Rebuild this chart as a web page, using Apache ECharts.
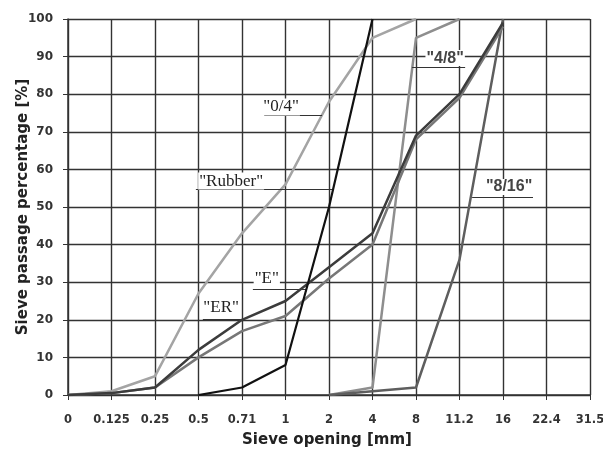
<!DOCTYPE html>
<html><head><meta charset="utf-8">
<script src="https://cdn.jsdelivr.net/npm/echarts@6/dist/echarts.min.js"></script>
<style>html,body{margin:0;padding:0;background:#fff}#c{width:603px;height:453px}</style>
</head><body><div id="c"></div>
<script>
// Sieve sizes (category ticks)
var sieveLabels = ['0','0.125','0.25','0.5','0.71','1','2','4','8','11.2','16','22.4','31.5'];
// Passing percentages per sieve (null = no value)
var s04     = [0, 1, 5, 27, 43, 56, 78, 95, 100, null, null, null, null];
var s48     = [null, null, null, null, null, null, 0, 2, 95, 100, null, null, null];
var s816    = [null, null, null, null, null, null, 0, 1, 2, 36, 100, null, null];
var rubber  = [null, null, null, 0, 2, 8, 50, 100, null, null, null, null, null];
var sER     = [0, 0.5, 2, 12, 20, 25, 34, 43, 69, 80, 99, null, null];
var sE      = [0, 0.5, 2, 10, 17, 21, 31, 40, 68, 79, 98, null, null];

// Annotation text/leader positions in data coordinates (x = sieve index)
var notes = {
  '0/4':   {text:[4.90,76.6], line:[4.51,5.84,74.5], serif:true},
  'Rubber':{text:[3.75,56.9], line:[2.94,6.09,54.7], serif:true},
  'E':     {text:[4.57,30.9], line:[4.25,5.49,28.2], serif:true},
  'ER':    {text:[3.52,23.2], line:[3.10,4.02,20.2], serif:true},
  '4/8':   {text:[8.67,89.6], line:[7.91,9.13,87.2], serif:false},
  '8/16':  {text:[10.14,55.3], line:[9.29,10.69,52.7], serif:false}
};

function pts(arr){
  var out=[];
  arr.forEach(function(v,i){ if(v!==null) out.push([i,v]); });
  return out;
}
function mk(name, arr, color, width, z){
  var n = notes[name];
  return {
    name: name, type:'line', data: pts(arr), symbol:'none', z:z,
    lineStyle:{color:color, width:width}, itemStyle:{color:color},
    markLine:{silent:true, symbol:'none', label:{show:false},
      lineStyle:{color:'#333', width:1, type:'solid'},
      data:[[{coord:[n.line[0],n.line[2]]},{coord:[n.line[1],n.line[2]]}]]},
    markPoint:{silent:true, symbol:'rect', symbolSize:1, itemStyle:{color:'rgba(0,0,0,0)'},
      data:[{coord:n.text, value:name}],
      label:{show:true, position:'inside', formatter:'"'+name+'"',
        color: n.serif ? '#222' : '#444', backgroundColor:'#fff', padding:[0,1],
        fontFamily: n.serif ? '"Liberation Serif", serif' : '"Liberation Sans", Arial, sans-serif',
        fontWeight: n.serif ? 'normal' : 'bold',
        fontSize: n.serif ? 17 : 16}}
  };
}

var chart = echarts.init(document.getElementById('c'), null, {renderer:'canvas'});
chart.setOption({
  animation:false,
  backgroundColor:'#fff',
  grid:{left:68, right:13, top:19, bottom:58, containLabel:false, outerBoundsMode:'none'},
  xAxis:{type:'value', min:0, max:12, interval:1,
    name:'Sieve opening [mm]', nameLocation:'middle', nameGap:38, nameMoveOverlap:false,
    nameTextStyle:{fontFamily:'"DejaVu Sans", sans-serif', fontWeight:'bold', fontSize:15, color:'#222', padding:[0,4,0,0]},
    axisLine:{show:true, lineStyle:{color:'#333', width:1.5}},
    axisTick:{show:true, length:5, lineStyle:{color:'#333'}},
    axisLabel:{formatter:function(v){return sieveLabels[Math.round(v)];}, margin:19,
      fontFamily:'"DejaVu Sans", sans-serif', fontWeight:'bold', fontSize:11.5, color:'#333'},
    splitLine:{show:true, lineStyle:{color:'#333', width:1.4}}},
  yAxis:{type:'value', min:0, max:100, interval:10,
    name:'Sieve passage percentage [%]', nameLocation:'middle', nameGap:37, nameMoveOverlap:false,
    nameTextStyle:{fontFamily:'"DejaVu Sans", sans-serif', fontWeight:'bold', fontSize:15, color:'#222'},
    axisLine:{show:true, lineStyle:{color:'#333', width:1.5}},
    axisTick:{show:true, length:5, lineStyle:{color:'#333'}},
    axisLabel:{margin:15, fontFamily:'"DejaVu Sans", sans-serif', fontWeight:'bold', fontSize:12, color:'#333'},
    splitLine:{show:true, lineStyle:{color:'#333', width:1.4}}},
  series:[
    mk('0/4', s04, '#a4a4a4', 2.5, 2),
    mk('4/8', s48, '#8e8e8e', 2.5, 3),
    mk('8/16', s816, '#5e5e5e', 2.5, 4),
    mk('E', sE, '#777777', 2.5, 5),
    mk('ER', sER, '#3c3c3c', 2.5, 6),
    mk('Rubber', rubber, '#111111', 2.2, 7)
  ]
});
</script></body></html>
